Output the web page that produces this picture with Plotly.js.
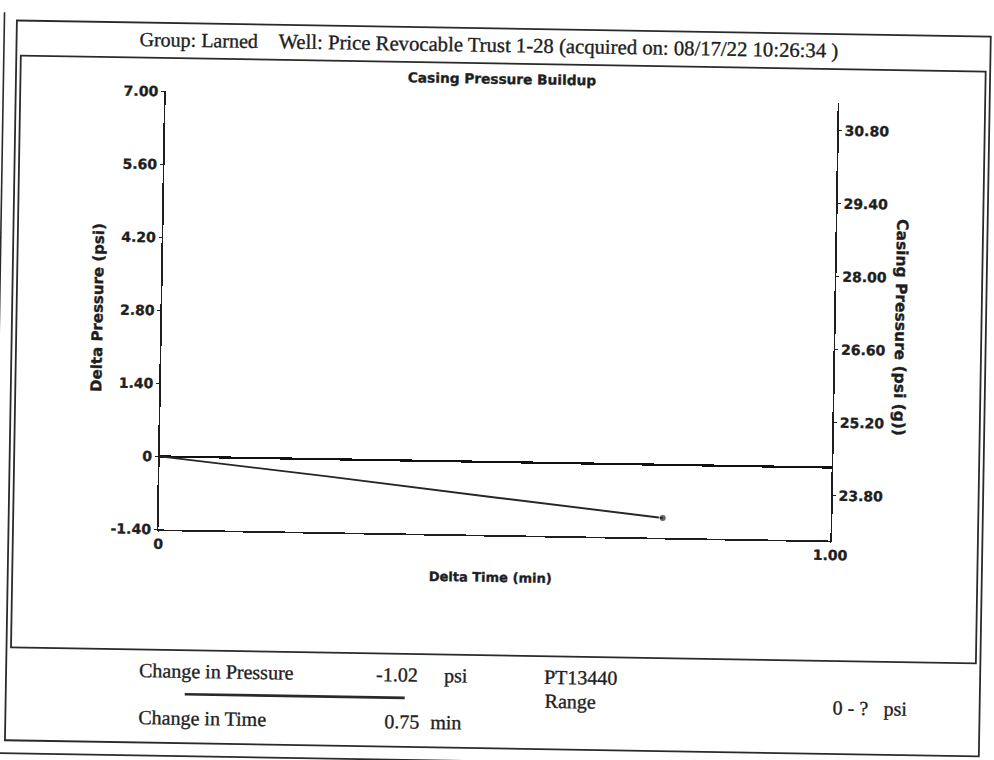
<!DOCTYPE html>
<html>
<head>
<meta charset="utf-8">
<script src="https://cdn.plot.ly/plotly-3.0.1.min.js"></script>
<style>
  html, body { margin: 0; padding: 0; background: #fff; overflow: hidden; width: 994px; height: 760px; }
  #chart { position: absolute; left: -20px; top: -20px; width: 1034px; height: 820px;
           transform: rotate(0.95deg); transform-origin: 517px 400px; }
  #chart text { stroke: #222; stroke-width: 0.35px; }
</style>
</head>
<body>
<div id="chart"></div>
<script>
// ---- data ----
const deltaTime = [0, 0.25, 0.5, 0.75];            // min
const deltaPressure = [0, -0.33, -0.68, -1.02];    // psi
const leftTickVals = [-1.4, 0, 1.4, 2.8, 4.2, 5.6, 7.0];
const leftTickText = ['-1.40', '0', '1.40', '2.80', '4.20', '5.60', '7.00'];
const rightTickVals = [23.8, 25.2, 26.6, 28.0, 29.4, 30.8];
const rightTickText = ['23.80', '25.20', '26.60', '28.00', '29.40', '30.80'];
const xTickVals = [0, 1];
const xTickText = ['0', '1.00'];
const leftRange = [-1.4, 7.0];
const rightRange = [22.94, 31.34];
const xRange = [0, 1];

const headerGroup = 'Group: Larned';
const headerWell = 'Well: Price Revocable Trust 1-28 (acquired on: 08/17/22 10:26:34 )';
const chartTitle = 'Casing Pressure Buildup';
const xTitle = 'Delta Time (min)';
const yTitle = 'Delta Pressure (psi)';
const y2Title = 'Casing Pressure (psi (g))';
const changePressure = '-1.02';
const changeTime = '0.75';
const sensor = 'PT13440';
const rangeText = '0 - ?';

// ---- geometry helpers (page pixels -> paper) ----
const OX = 20, OY = 20, W = 1034, H = 820;
const M = { l: 181, r: 181, t: 116.5, b: 265.4 };
const PW = W - M.l - M.r, PH = H - M.t - M.b;
const px = x => (x + OX - M.l) / PW;
const py = y => 1 - (y + OY - M.t) / PH;

const INK = '#1e1e1e';
const serif = { family: 'Liberation Serif, Times New Roman, serif', size: 20, color: INK };
const sansB = { family: 'DejaVu Sans, Arial, sans-serif', size: 14, color: INK, weight: 'bold' };

function txt(text, x, y, font, extra) {
  return Object.assign({ text: text, x: px(x), y: py(y), xref: 'paper', yref: 'paper',
    xanchor: 'left', yanchor: 'middle', showarrow: false, font: font }, extra || {});
}
function line(x0, y0, x1, y1, w, c) {
  return { type: 'line', xref: 'paper', yref: 'paper', x0: px(x0), y0: py(y0), x1: px(x1), y1: py(y1),
    line: { color: c || '#2a2a2a', width: w || 1.6 } };
}
function rect(x0, y0, x1, y1, w) {
  return { type: 'rect', xref: 'paper', yref: 'paper', x0: px(x0), y0: py(y0), x1: px(x1), y1: py(y1),
    line: { color: '#2a2a2a', width: w || 1.6 }, fillcolor: 'rgba(0,0,0,0)' };
}

const traces = [
  {
    x: deltaTime, y: deltaPressure, type: 'scatter', mode: 'lines+markers',
    line: { color: '#262626', width: 1.9 },
    marker: { color: '#262626', size: [0, 0, 0, 7] },
    yaxis: 'y', hoverinfo: 'skip', showlegend: false
  },
  {
    // casing pressure axis (no separate series visible in the reference)
    x: [], y: [], type: 'scatter', mode: 'lines',
    yaxis: 'y2', hoverinfo: 'skip', showlegend: false
  }
];

const layout = {
  width: W, height: H,
  margin: { l: M.l, r: M.r, t: M.t, b: M.b, autoexpand: false },
  paper_bgcolor: 'rgba(0,0,0,0)', plot_bgcolor: 'rgba(0,0,0,0)',
  showlegend: false,
  title: { text: chartTitle, font: Object.assign({}, sansB, { size: 13.7 }),
           x: (497 + OX) / W, xanchor: 'center', xref: 'container',
           y: 1 - (79 + OY) / H, yanchor: 'middle', yref: 'container' },
  xaxis: {
    range: xRange, tickvals: xTickVals, ticktext: xTickText,
    showline: true, linecolor: INK, linewidth: 1.7, mirror: false,
    showgrid: false, zeroline: false, ticks: 'outside', ticklen: 1, tickcolor: INK,
    tickfont: sansB, fixedrange: true
  },
  yaxis: {
    range: leftRange, tickvals: leftTickVals, ticktext: leftTickText,
    showline: true, linecolor: INK, linewidth: 1.7,
    showgrid: false, zeroline: true, zerolinecolor: '#111', zerolinewidth: 2.2,
    ticks: 'outside', ticklen: 3, tickcolor: INK, tickfont: sansB, fixedrange: true
  },
  yaxis2: {
    range: rightRange, tickvals: rightTickVals, ticktext: rightTickText,
    overlaying: 'y', side: 'right', anchor: 'x',
    showline: true, linecolor: INK, linewidth: 1.7,
    showgrid: false, zeroline: false,
    ticks: 'outside', ticklen: 3, tickcolor: INK, tickfont: sansB, fixedrange: true
  },
  shapes: [
    rect(11, 28, 985, 748, 1.8),
    rect(15.5, 63, 980.5, 655, 1.8),
    line(190, 699, 410, 699, 2.6),
    line(-40, 761, 1060, 761, 1.8),
    line(-1.5, 20, -1.5, 800, 1.6)
  ],
  annotations: [
    txt(headerGroup, 132, 45, serif),
    txt(headerWell, 271, 45, Object.assign({}, serif, { size: 20.7 })),
    txt(yTitle, 97, 314, Object.assign({}, sansB, { size: 15 }), { xanchor: 'center', textangle: -90 }),
    txt(y2Title, 899, 320, Object.assign({}, sansB, { size: 15.5 }), { xanchor: 'center', textangle: 90 }),
    txt(xTitle, 493, 577, Object.assign({}, sansB, { size: 13 }), { xanchor: 'center' }),
    txt('Change in Pressure', 142, 676, serif),
    txt(changePressure, 379, 676, serif),
    txt('psi', 447, 676, serif),
    txt('Change in Time', 142, 723, serif),
    txt(changeTime, 388, 723, serif),
    txt('min', 434, 723, serif),
    txt(sensor, 547, 676, serif),
    txt('Range', 548, 700, serif),
    txt(rangeText, 836, 702, serif),
    txt('psi', 887, 702, serif)
  ]
};

Plotly.newPlot('chart', traces, layout, { staticPlot: true, displayModeBar: false });
</script>
</body>
</html>
